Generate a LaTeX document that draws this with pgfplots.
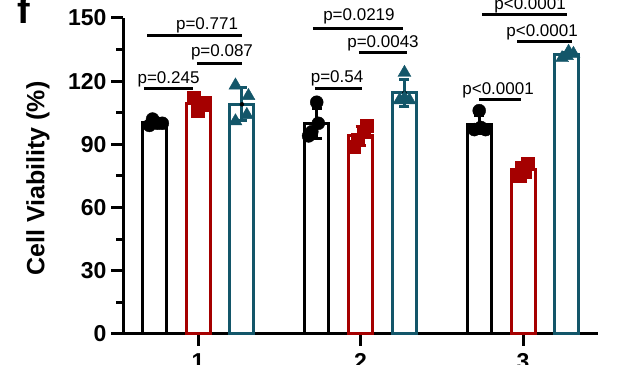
\documentclass[border=0pt]{standalone}
\usepackage{pgfplots}
\pgfplotsset{compat=1.18}
\usepackage{pgfplotstable}
\usepackage{fontspec}
\setmainfont{Liberation Sans}
\definecolor{cred}{HTML}{A50000}
\definecolor{cteal}{HTML}{135669}

% bar means and SD (x = position of the bar)
\pgfplotstableread{
x y e
0.73 100.25 1.26
1.73 100 7.12
2.73 99.5 4.36
}\blk
\pgfplotstableread{
x y e
1 109.25 2.5
2 94 4.4
3 78 2.58
}\red
\pgfplotstableread{
x y e
1.27 109 7.87
2.27 114.5 6.35
3.27 132.5 1.29
}\teal
% individual points
\pgfplotstableread{
x y
0.70 99
0.72 102
0.75 100
0.78 100
1.68 94
1.70 96
1.74 100
1.73 110
2.70 97
2.74 98
2.77 97
2.73 106
}\blkpts
\pgfplotstableread{
x y
0.97 112
1.04 110
1.00 106
1.02 109
1.96 89
1.98 92
2.02 96
2.04 99
2.98 75
3.01 77
2.99 79
3.03 81
}\redpts
\pgfplotstableread{
x y
1.23 118
1.31 113
1.30 104
1.23 101
2.24 111
2.27 112
2.30 111
2.27 124
3.24 131
3.27 132
3.31 133
3.28 134
}\tealpts

\begin{document}
\begin{tikzpicture}
\begin{axis}[
  scale only axis, width=475pt, height=316pt,
  xmin=0.538, xmax=3.46, ymin=0, ymax=150,
  axis x line*=bottom, axis y line*=left,
  axis line style={line width=3pt, -},
  clip=false,
  xtick={1,2,3},
  ytick={0,30,60,90,120,150},
  minor ytick={15,45,75,105,135},
  tick align=outside,
  major tick length=12pt, minor tick length=7pt,
  every tick/.style={line width=3pt, black},
  minor tick style={line width=3pt, black},
  /pgf/number format/assume math mode=true,
  ticklabel style={font=\fontsize{23}{23}\selectfont\bfseries},
  yticklabel style={xshift=-1pt},
  xticklabel style={yshift=-4pt},
]
\addplot[ybar, bar width=24pt, bar shift=0pt, draw=black, fill=white, line width=3pt]
  table[x=x, y=y] {\blk};
\addplot[ybar, bar width=24pt, bar shift=0pt, draw=cred, fill=white, line width=3pt]
  table[x=x, y=y] {\red};
\addplot[ybar, bar width=24pt, bar shift=0pt, draw=cteal, fill=white, line width=3pt]
  table[x=x, y=y] {\teal};

\addplot[only marks, mark=none,
  error bars/.cd, y dir=both, y explicit,
  error bar style={line width=3pt, draw=black},
  error mark options={rotate=90, mark size=5pt, line width=3pt, draw=black}]
  table[x=x, y=y, y error=e] {\blk};
\addplot[only marks, mark=none,
  error bars/.cd, y dir=both, y explicit,
  error bar style={line width=3pt, draw=cred},
  error mark options={rotate=90, mark size=5pt, line width=3pt, draw=cred}]
  table[x=x, y=y, y error=e] {\red};
\addplot[only marks, mark=none,
  error bars/.cd, y dir=both, y explicit,
  error bar style={line width=3pt, draw=cteal},
  error mark options={rotate=90, mark size=5pt, line width=3pt, draw=cteal}]
  table[x=x, y=y, y error=e] {\teal};

\addplot[only marks, mark=*, mark size=6.5pt, black, mark options={fill=black, draw=black}] table {\blkpts};
\addplot[only marks, mark=square*, mark size=6.5pt, cred, mark options={fill=cred, draw=cred}] table {\redpts};
\addplot[only marks, mark=triangle*, mark size=7.5pt, cteal, mark options={fill=cteal, draw=cteal}] table {\tealpts};

% significance brackets
\begin{scope}[line width=3pt]
\draw (axis cs:0.667,116.3) -- (axis cs:0.969,116.3);
\draw (axis cs:0.993,128.6) -- (axis cs:1.270,128.6);
\draw (axis cs:0.686,141.9) -- (axis cs:1.270,141.9);
\draw (axis cs:1.720,116.7) -- (axis cs:2.009,116.7);
\draw (axis cs:1.990,133.4) -- (axis cs:2.286,133.4);
\draw (axis cs:1.707,145.0) -- (axis cs:2.261,145.0);
\draw (axis cs:2.729,111.5) -- (axis cs:2.988,111.5);
\draw (axis cs:2.963,138.6) -- (axis cs:3.301,138.6);
\draw (axis cs:2.747,151.7) -- (axis cs:3.270,151.7);
\end{scope}
\begin{scope}[every node/.style={anchor=base, inner sep=0pt, font=\fontsize{17}{17}\selectfont}]
\node at (axis cs:0.818,119.1) {p=0.245};
\node at (axis cs:1.147,131.5) {p=0.087};
\node at (axis cs:1.055,144.3) {p=0.771};
\node at (axis cs:1.855,119.6) {p=0.54};
\node at (axis cs:2.138,136.2) {p=0.0043};
\node at (axis cs:1.990,149.0) {p=0.0219};
\node at (axis cs:2.846,113.9) {p<0.0001};
\node at (axis cs:3.117,141.0) {p<0.0001};
\node at (axis cs:3.043,154.2) {p<0.0001};
\end{scope}

\node[rotate=90, inner sep=0pt, font=\fontsize{25}{25}\selectfont\bfseries] at (axis cs:0.015,73.8) {Cell Viability (\%)};
\node[anchor=base, inner sep=0pt, font=\fontsize{38}{38}\selectfont\bfseries] at (axis cs:-0.071,147.6) {f};

\coordinate (bl) at (axis cs:-0.219,-14.71);
\coordinate (tr) at (axis cs:3.701,158.54);
\end{axis}
\pgfresetboundingbox
\useasboundingbox (bl) rectangle (tr);
\end{tikzpicture}
\end{document}
